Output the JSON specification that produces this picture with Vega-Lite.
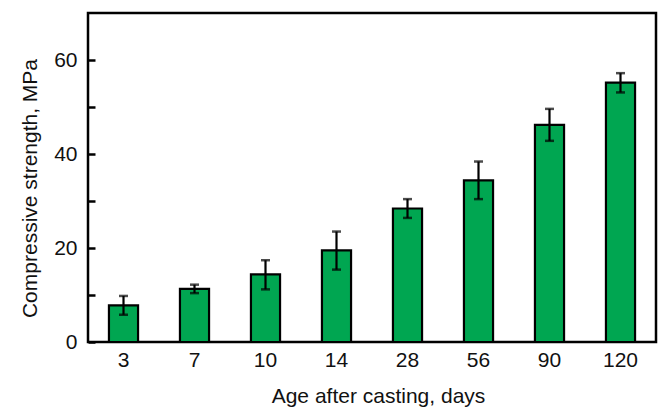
{
  "$schema": "https://vega.github.io/schema/vega-lite/v6.json",
  "width": 568,
  "height": 329,
  "autosize": {"type": "none"},
  "padding": {"left": 88, "top": 13, "right": 2, "bottom": 70},
  "config": {
    "view": {"stroke": "black", "strokeWidth": 2.5},
    "font": "Liberation Sans",
    "axis": {"labelFont": "Liberation Sans", "titleFont": "Liberation Sans", "labelColor": "#111", "titleColor": "#111", "titleFontWeight": "normal", "grid": false, "domain": false}
  },
  "data": {"values": [
    {"age": "3", "strength": 7.8, "lo": 5.8, "hi": 9.8},
    {"age": "7", "strength": 11.3, "lo": 10.4, "hi": 12.2},
    {"age": "10", "strength": 14.4, "lo": 11.2, "hi": 17.4},
    {"age": "14", "strength": 19.5, "lo": 15.4, "hi": 23.5},
    {"age": "28", "strength": 28.4, "lo": 26.4, "hi": 30.4},
    {"age": "56", "strength": 34.4, "lo": 30.4, "hi": 38.4},
    {"age": "90", "strength": 46.2, "lo": 42.8, "hi": 49.6},
    {"age": "120", "strength": 55.2, "lo": 53.1, "hi": 57.2}
  ]},
  "encoding": {
    "x": {"field": "age", "type": "nominal", "sort": null,
      "scale": {"paddingInner": 0.59, "paddingOuter": 0.295},
      "axis": {"title": "Age after casting, days", "labelAngle": 0, "ticks": false, "labelPadding": 7, "labelFontSize": 21, "titleFontSize": 21, "titlePadding": 15, "titleX": 290}}
  },
  "layer": [
    {
      "mark": {"type": "bar", "color": "#00A651", "stroke": "black", "strokeWidth": 2.2},
      "encoding": {
        "y": {"field": "strength", "type": "quantitative",
          "scale": {"domain": [0, 70], "nice": false},
          "axis": {"title": "Compressive strength, MPa", "values": [0, 10, 20, 30, 40, 50, 60],
            "labelExpr": "datum.value % 20 == 0 ? datum.label : ''",
            "tickSize": -7, "tickWidth": 2.5, "tickColor": "black", "labelPadding": 18,
            "labelFontSize": 21, "titleFontSize": 21, "titlePadding": 13, "titleY": 175}}
      }
    },
    {
      "mark": {"type": "rule", "color": "black", "strokeWidth": 2.2},
      "encoding": {"y": {"field": "lo", "type": "quantitative"}, "y2": {"field": "hi"}}
    },
    {
      "mark": {"type": "tick", "color": "black", "thickness": 2.5, "size": 9, "orient": "horizontal"},
      "encoding": {"y": {"field": "lo", "type": "quantitative"}}
    },
    {
      "mark": {"type": "tick", "color": "black", "thickness": 2.5, "size": 9, "orient": "horizontal"},
      "encoding": {"y": {"field": "hi", "type": "quantitative"}}
    }
  ]
}
